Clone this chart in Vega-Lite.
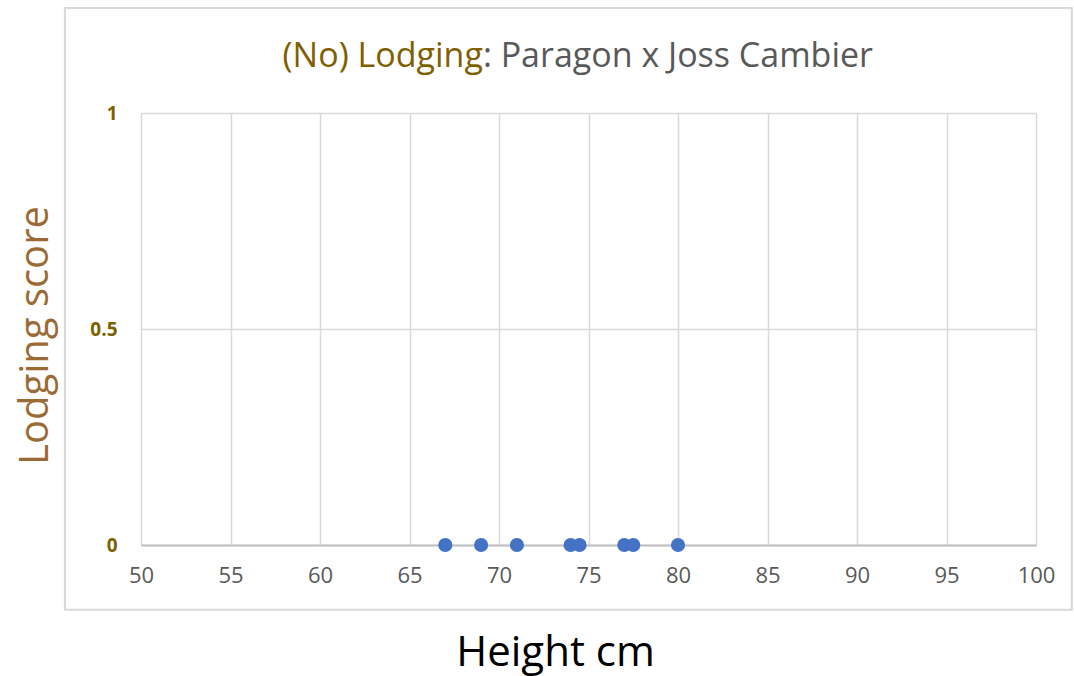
{
  "$schema": "https://vega.github.io/schema/vega-lite/v6.json",
  "width": 895,
  "height": 432,
  "autosize": {"type": "none"},
  "padding": {"left": 141, "top": 113, "right": 38, "bottom": 131},
  "background": "white",
  "config": {"view": {"stroke": null}, "font": "Open Sans"},
  "layer": [
    {
      "data": {"values": [{}]},
      "mark": {"type": "rect", "fill": null, "stroke": "#d9d9d9", "strokeWidth": 2, "clip": false},
      "encoding": {
        "x": {"datum": 45.75, "type": "quantitative"},
        "x2": {"datum": 102.0},
        "y": {"datum": 1.243, "type": "quantitative"},
        "y2": {"datum": -0.15}
      }
    },
    {
      "data": {"values": [
        {"height": 67.0, "score": 0},
        {"height": 69.0, "score": 0},
        {"height": 71.0, "score": 0},
        {"height": 74.0, "score": 0},
        {"height": 74.5, "score": 0},
        {"height": 77.0, "score": 0},
        {"height": 77.5, "score": 0},
        {"height": 80.0, "score": 0}
      ]},
      "mark": {"type": "circle", "color": "#4472C4", "opacity": 1, "size": 200},
      "encoding": {
        "x": {
          "field": "height", "type": "quantitative",
          "scale": {"domain": [50, 100], "nice": false, "zero": false},
          "axis": {
            "values": [50, 55, 60, 65, 70, 75, 80, 85, 90, 95, 100],
            "title": "Height cm", "titleFont": "Open Sans", "titleFontSize": 42, "titleFontWeight": "normal", "titleColor": "#000000",
            "titleX": 414, "titleY": 107, "titleBaseline": "middle", "titleAlign": "center",
            "labelColor": "#595959", "labelFontSize": 22, "labelPadding": 20, "labelFlush": false, "ticks": false,
            "domain": true, "domainColor": "#bfbfbf", "domainWidth": 2,
            "grid": true, "gridColor": "#d9d9d9", "gridWidth": 1.5
          }
        },
        "y": {
          "field": "score", "type": "quantitative",
          "scale": {"domain": [0, 1], "nice": false},
          "axis": {
            "values": [0, 0.5, 1], "format": "~g",
            "title": "Lodging score", "titleFont": "Open Sans", "titleFontSize": 40, "titleFontWeight": "normal", "titleColor": "#9C6A34",
            "titleX": -106, "titleY": 222, "titleAngle": -90, "titleBaseline": "middle", "titleAlign": "center",
            "labelColor": "#7F6000", "labelFontSize": 19, "labelFontWeight": "bold", "labelPadding": 24, "labelFlush": false, "ticks": false,
            "domain": false, "grid": true, "gridColor": "#d9d9d9", "gridWidth": 1.5
          }
        }
      }
    },
    {
      "data": {"values": [{}]},
      "mark": {"type": "text", "text": "(No) Lodging", "align": "right", "baseline": "middle", "fontSize": 34, "color": "#7F6000", "font": "Open Sans", "clip": false},
      "encoding": {"x": {"datum": 69.1, "type": "quantitative"}, "y": {"datum": 1.13, "type": "quantitative"}}
    },
    {
      "data": {"values": [{}]},
      "mark": {"type": "text", "text": ": Paragon x Joss Cambier", "align": "left", "baseline": "middle", "fontSize": 34, "color": "#595959", "font": "Open Sans", "clip": false},
      "encoding": {"x": {"datum": 69.1, "type": "quantitative"}, "y": {"datum": 1.13, "type": "quantitative"}}
    }
  ]
}
